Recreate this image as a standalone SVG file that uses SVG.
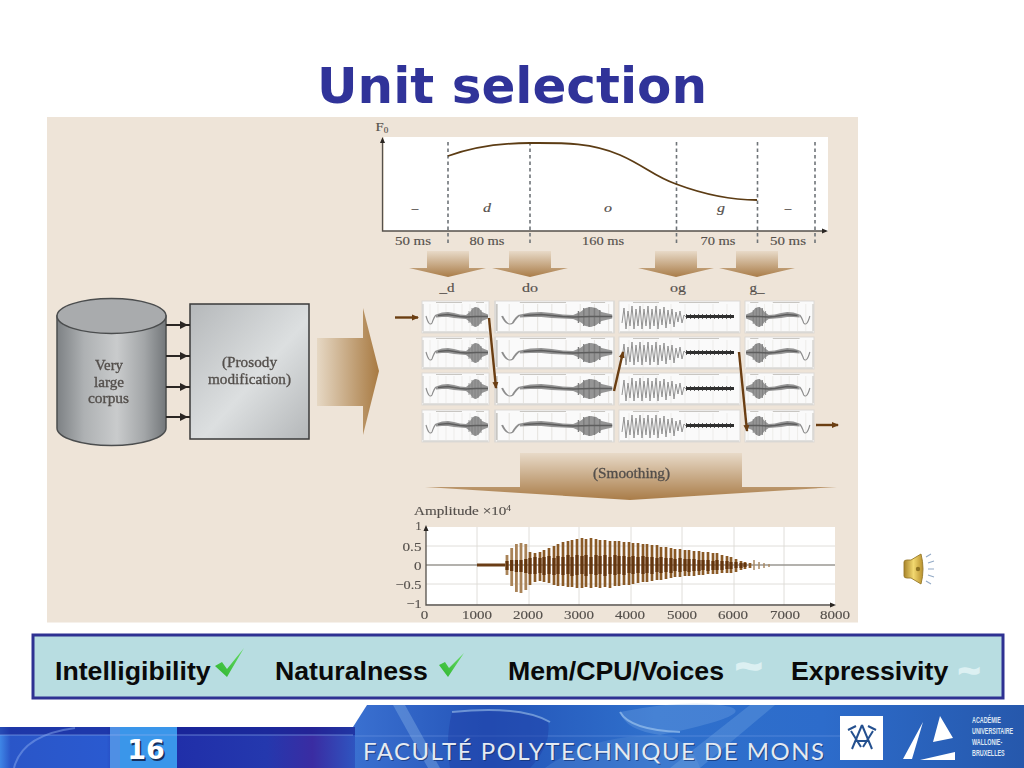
<svg xmlns="http://www.w3.org/2000/svg" xmlns:xlink="http://www.w3.org/1999/xlink" width="1024" height="768" viewBox="0 0 1024 768">
<style>
.serif{font-family:"Liberation Serif","DejaVu Serif",serif;fill:#55504c}
.s12{font-size:13px;stroke:#55504c;stroke-width:.15}
.big{font-size:14px;stroke:#4f4b48;stroke-width:.3}
.mid{text-anchor:middle}
.end{text-anchor:end}
.it{font-style:italic}
.bar{font-family:"Liberation Sans",Arial,sans-serif;font-weight:bold;font-size:26.7px;fill:#0a0a0a}
.tilde{font-family:"Liberation Sans",Arial,sans-serif;font-weight:bold;fill:#dcf0f2;stroke:#dcf0f2;stroke-width:1.6}
.dash{stroke:#6f7478;stroke-width:1.6;stroke-dasharray:3.5 3;fill:none}
.conn{stroke:#6b3e12;stroke-width:2.4;fill:none;marker-end:url(#brown)}
.feed{stroke:#2a2623;stroke-width:2.2;fill:none}
.grid{stroke:#dcdad6;stroke-width:.9}
.drop{fill:url(#dropGrad)}
.uni{font-family:"Liberation Sans",sans-serif;font-size:9px;font-weight:bold;fill:#dce6f2}
</style>
<defs>
<linearGradient id="dropGrad" x1="0" y1="0" x2="0" y2="1"><stop offset="0" stop-color="#e8dac8"/><stop offset="1" stop-color="#a97c48"/></linearGradient>
<linearGradient id="bigGrad" x1="0" y1="0" x2="1" y2="0"><stop offset="0" stop-color="#e6d8c4"/><stop offset="1" stop-color="#a87a42"/></linearGradient>
<linearGradient id="cyl" x1="0" y1="0" x2="1" y2="0"><stop offset="0" stop-color="#7d8184"/><stop offset=".25" stop-color="#aeb1b3"/><stop offset=".55" stop-color="#c9cbcc"/><stop offset=".8" stop-color="#a3a6a8"/><stop offset="1" stop-color="#73777a"/></linearGradient>
<linearGradient id="boxG" x1="0" y1="0" x2="1" y2="1"><stop offset="0" stop-color="#b5b8ba"/><stop offset=".55" stop-color="#dcdfe0"/><stop offset="1" stop-color="#b4b7b9"/></linearGradient>
<linearGradient id="footL" x1="0" y1="0" x2="1" y2="0"><stop offset="0" stop-color="#3f86e6"/><stop offset=".03" stop-color="#2a56c8"/><stop offset=".3" stop-color="#2a5ad0"/><stop offset=".36" stop-color="#1e2aa6"/><stop offset=".75" stop-color="#2438ae"/><stop offset=".88" stop-color="#3a2ca2"/><stop offset="1" stop-color="#2f55c0"/></linearGradient>
<linearGradient id="footR" x1="0" y1="0" x2="1" y2="0"><stop offset="0" stop-color="#3a70d0"/><stop offset=".2" stop-color="#2454b8"/><stop offset=".45" stop-color="#2f70cc"/><stop offset=".7" stop-color="#2d6ccb"/><stop offset="1" stop-color="#2658ac"/></linearGradient>
<linearGradient id="gold" x1="0" y1="0" x2="1" y2="0"><stop offset="0" stop-color="#a8842a"/><stop offset=".5" stop-color="#f2d870"/><stop offset="1" stop-color="#b8902c"/></linearGradient>
<linearGradient id="chk" x1="0" y1="1" x2="1" y2="0"><stop offset="0" stop-color="#2fb52f"/><stop offset="1" stop-color="#66dc66"/></linearGradient>
<marker id="brown" markerUnits="userSpaceOnUse" markerWidth="8" markerHeight="8" refX="6" refY="3.500" orient="auto"><path d="M0 .5L7 3.500L0 6.500Z" fill="#6b3e12"/></marker>
<filter id="soft" x="-5%" y="-5%" width="110%" height="110%"><feGaussianBlur stdDeviation=".6"/></filter>
<g id="waveA">
<rect width="67" height="32" fill="#fafafa" stroke="#dad8d4" stroke-width=".9"/>
<path d="M8 3V30M16 3V30M24 3V30M32 3V30M40 3V30M48 3V30M56 3V30M64 3V30" stroke="#e6e4e0" stroke-width=".6" fill="none"/>
<path d="M1 31H66M14 1.500H40M54 1.500H62M1 3V30" stroke="#c8c6c2" stroke-width="1" fill="none"/>
<path d="M4 15Q7 26 10 22Q12 16 14 14" stroke="#8d8d8d" stroke-width="1.100" fill="none"/>
<path d="M14 13.500L20 11.500L26 11L32 12L38 13.500L44 14L48 11L51 7L54 6L57 7L60 11L66 13.500L66 17.500L60 20L57 24L54 26L51 25L48 21L44 18L38 17.500L32 17L26 16L20 16L14 16.500Z" fill="#959595"/>
<path d="M47 10V22M50 7V25M53 6V26M56 7V25M59 9V23" stroke="#7d7d7d" stroke-width=".8" fill="none"/>
<path d="M16 14.500L26 13.500L38 15.500L44 16L54 15.500L66 15.500" stroke="#5d5d5d" stroke-width="1.500" fill="none"/>
</g>
<g id="waveC">
<rect width="121" height="32" fill="#fafafa" stroke="#dad8d4" stroke-width=".9"/>
<path d="M10 3V30M24 3V30M38 3V30M52 3V30M66 3V30M80 3V30M94 3V30M108 3V30" stroke="#e6e4e0" stroke-width=".6" fill="none"/>
<path d="M1 31H120M14 1.500H40M60 1.500H100" stroke="#c8c6c2" stroke-width="1" fill="none"/>
<path d="M3 22L5 7L7 28L9 10L11 25L13 5L15 28L17 8L19 25L21 5L23 28L25 8L27 25L29 5L31 28L33 8L35 25L37 5L39 28L41 8L43 24L45 6L47 27L49 9L51 23L53 8L55 26L57 11L59 21L61 10L63 22L65 14L68 17L70 15" stroke="#929292" stroke-width="1" fill="none"/>
<path d="M67 15.500H115" stroke="#2e2e2e" stroke-width="2.800" fill="none"/>
<path d="M67 15.500H115" stroke="#333" stroke-width="4.600" stroke-dasharray="1 3" fill="none"/>
</g>
</defs>

<rect width="1024" height="768" fill="#ffffff"/>
<text id="title" x="512" y="103" text-anchor="middle" font-family="'DejaVu Sans',Verdana,sans-serif" font-weight="bold" font-size="50" fill="#303399">Unit selection</text>
<rect id="figure" x="47" y="117" width="811" height="505.500" fill="#eee4d8"/>

<g id="f0-plot">
<rect x="384" y="137" width="444" height="94" fill="#ffffff"/>
<path d="M448 142V245M530 142V245M676.500 142V245M757.500 142V245M815 142V245" class="dash"/>
<path d="M448 156C470 148 495 143 530 143C560 143 590 142 620 155C645 166 655 177 676 184C700 193 725 200 757 200" fill="none" stroke="#5c3c14" stroke-width="1.800"/>
<path d="M382.500 141V231H826" fill="none" stroke="#55504b" stroke-width="1.300"/>
<path d="M382.500 137L380 143H385Z M828 231L822 228.500V233.500Z" fill="#2a2623"/>
<text x="375.500" y="131" class="serif s12" textLength="12.700" lengthAdjust="spacingAndGlyphs">F<tspan font-size="8" dy="2">0</tspan></text>
<text x="415" y="212" class="serif s12 mid it">–</text>
<text x="487" y="212" class="serif s12 mid it" textLength="8" lengthAdjust="spacingAndGlyphs">d</text>
<text x="608" y="212" class="serif s12 mid it" textLength="8" lengthAdjust="spacingAndGlyphs">o</text>
<text x="721" y="212" class="serif s12 mid it" textLength="8" lengthAdjust="spacingAndGlyphs">g</text>
<text x="788" y="212" class="serif s12 mid it">–</text>
<text x="413" y="245" class="serif s12 mid" textLength="36" lengthAdjust="spacingAndGlyphs">50 ms</text>
<text x="487" y="245" class="serif s12 mid" textLength="35" lengthAdjust="spacingAndGlyphs">80 ms</text>
<text x="603" y="245" class="serif s12 mid" textLength="42" lengthAdjust="spacingAndGlyphs">160 ms</text>
<text x="718" y="245" class="serif s12 mid" textLength="35" lengthAdjust="spacingAndGlyphs">70 ms</text>
<text x="788" y="245" class="serif s12 mid" textLength="36" lengthAdjust="spacingAndGlyphs">50 ms</text>
</g>

<g id="diphone-arrows">
<path class="drop" d="M427 251H469V268H486L448 277L409 268H427Z"/>
<path class="drop" d="M509 251H551V268H568L530 277L492 268H509Z"/>
<path class="drop" d="M655 251H697V268H714L676 277L638 268H655Z"/>
<path class="drop" d="M736 251H778V268H795L757 277L719 268H736Z"/>
<text x="447" y="292" class="serif s12 mid" textLength="15" lengthAdjust="spacingAndGlyphs">_d</text>
<text x="530" y="292" class="serif s12 mid" textLength="16" lengthAdjust="spacingAndGlyphs">do</text>
<text x="678" y="292" class="serif s12 mid" textLength="16" lengthAdjust="spacingAndGlyphs">og</text>
<text x="757" y="292" class="serif s12 mid" textLength="15" lengthAdjust="spacingAndGlyphs">g_</text>
</g>

<g id="unit-grid" filter="url(#soft)">
<use xlink:href="#waveA" transform="translate(422,301)"/>
<use xlink:href="#waveA" transform="translate(422,337)"/>
<use xlink:href="#waveA" transform="translate(422,373)"/>
<use xlink:href="#waveA" transform="translate(422,410)"/>
<use xlink:href="#waveA" transform="translate(495,301) scale(1.776,1)"/>
<use xlink:href="#waveA" transform="translate(495,337) scale(1.776,1)"/>
<use xlink:href="#waveA" transform="translate(495,373) scale(1.776,1)"/>
<use xlink:href="#waveA" transform="translate(495,410) scale(1.776,1)"/>
<use xlink:href="#waveC" transform="translate(619,301)"/>
<use xlink:href="#waveC" transform="translate(619,337)"/>
<use xlink:href="#waveC" transform="translate(619,373)"/>
<use xlink:href="#waveC" transform="translate(619,410)"/>
<use xlink:href="#waveA" transform="translate(814,301) scale(-1.030,1)"/>
<use xlink:href="#waveA" transform="translate(814,337) scale(-1.030,1)"/>
<use xlink:href="#waveA" transform="translate(814,373) scale(-1.030,1)"/>
<use xlink:href="#waveA" transform="translate(814,410) scale(-1.030,1)"/>
</g>

<g id="corpus">
<path d="M57 316V428C57 438 82 445.500 111.500 445.500C141 445.500 166 438 166 428V316Z" fill="url(#cyl)" stroke="#4b4d4e" stroke-width="1.500"/>
<ellipse cx="111.500" cy="316" rx="54.500" ry="17.500" fill="#a9abad" stroke="#4b4d4e" stroke-width="1.500"/>
<text x="109" y="370" class="serif big mid" textLength="28" lengthAdjust="spacingAndGlyphs">Very</text>
<text x="109" y="387" class="serif big mid" textLength="30" lengthAdjust="spacingAndGlyphs">large</text>
<text x="108.500" y="403" class="serif big mid" textLength="41" lengthAdjust="spacingAndGlyphs">corpus</text>
</g>

<g id="prosody">
<rect x="190" y="304" width="119" height="135" fill="url(#boxG)" stroke="#3a3a3a" stroke-width="1.500"/>
<text x="249.500" y="367" class="serif big mid" textLength="55" lengthAdjust="spacingAndGlyphs">(Prosody</text>
<text x="249.500" y="384" class="serif big mid" textLength="83" lengthAdjust="spacingAndGlyphs">modification)</text>
</g>

<g id="big-arrow"><path d="M317 338H363V308L379 371L363 435V406H317Z" fill="url(#bigGrad)"/></g>

<g id="smoothing">
<path class="drop" d="M520 453H742V487H837L630 500L425 487H520Z"/>
<text x="631.500" y="478" class="serif big mid" textLength="77" lengthAdjust="spacingAndGlyphs">(Smoothing)</text>
</g>

<g id="connectors">
<path class="feed" d="M166 325H190M166 356H190M166 387H190M166 417H190"/>
<path d="M180 321L188 325L180 329Z M180 352L188 356L180 360Z M180 383L188 387L180 391Z M180 413L188 417L180 421Z" fill="#2a2623"/>
<path class="conn" d="M395 317.500H418"/>
<path class="conn" d="M489 318L496 388"/>
<path class="conn" d="M614 391L623 352"/>
<path class="conn" d="M739 352L747 431"/>
<path class="conn" d="M816 425H838"/>
</g>

<g id="amplitude-plot">
<rect x="426" y="527" width="409" height="79" fill="#ffffff"/>
<path class="grid" d="M477 527V605M529 527V605M579 527V605M631 527V605M682 527V605M734 527V605M784 527V605M426 546H835M426 584H835"/>
<path d="M426 565H835" stroke="#9a9792" stroke-width="1.400"/>
<g filter="url(#soft)">
<path d="M477 565H505" stroke="#6b3e12" stroke-width="3"/>
<path d="M754 560V570M759 562V569M764 563V568M769 564V567" stroke="#a98a66" stroke-width="1.500"/>
<path d="M507 555V575M511.700 548V586M516.400 544V592M521 543V593M525.800 544V590" stroke="#a98358" stroke-width="2.800"/>
<path d="M530 552V585M535 553V582M540 552V581M544 550V582M549 548V583M554 546V585M558 544V586M563 542V586M568 541V587M572 540V587M577 539V588M582 538V588M586 539V587M591 538V588M596 539V587M600 540V588M605 540V587M610 541V588M615 541V586M619 541V586M624 542V585M629 542V585M633 543V584M638 543V583M643 544V582M647 544V582M652 545V581M657 545V580M661 547V580M666 547V579M671 548V578M675 549V577M680 549V577M685 550V576M689 550V576M694 551V576M699 551V575M703 552V575M708 552V574M713 553V574M717 553V574M722 555V573M727 556V573M731 557V573M736 559V572M741 561V570M745 562V569M750 563V568" stroke="#8a5a28" stroke-width="2.700"/>
<path d="M507 561V570M511.700 560V571M516.400 560V572M521 560V572M525.800 559V573M530 558V574M535 557V574M540 558V573M544 557V575M549 556V574M554 558V575M558 556V574M563 557V575M568 555V574M572 557V576M577 555V575M582 556V574M586 555V576M591 557V574M596 555V575M600 556V574M605 555V576M610 557V574M615 555V575M619 556V574M624 556V575M629 557V573M633 556V574M638 557V573M643 556V574M647 557V573M652 557V574M657 558V572M661 557V573M666 558V572M671 558V573M675 559V571M680 558V572M685 559V571M689 559V572M694 559V571M699 560V571M703 560V570M708 560V571M713 561V570M717 560V570M722 561V570M727 561V569M731 562V569M736 562V568M741 563V568M745 563V567" stroke="#643508" stroke-width="3.200"/>
</g>
<path d="M426 529V605H833" fill="none" stroke="#55504b" stroke-width="1.300"/>
<path d="M426 525L423.500 531H428.500Z M836 605L830 602.500V607.500Z" fill="#2a2623"/>
<text x="414" y="515" class="serif s12" textLength="97" lengthAdjust="spacingAndGlyphs">Amplitude ×10<tspan font-size="8" dy="-4">4</tspan></text>
<text x="421.500" y="529.500" class="serif s12 end" textLength="6" lengthAdjust="spacingAndGlyphs">1</text>
<text x="421.500" y="551" class="serif s12 end" textLength="19" lengthAdjust="spacingAndGlyphs">0.5</text>
<text x="421.500" y="570" class="serif s12 end" textLength="7.500" lengthAdjust="spacingAndGlyphs">0</text>
<text x="421.500" y="589" class="serif s12 end" textLength="26" lengthAdjust="spacingAndGlyphs">−0.5</text>
<text x="421.500" y="608" class="serif s12 end" textLength="15" lengthAdjust="spacingAndGlyphs">−1</text>
<text x="424.500" y="619" class="serif s12 mid" textLength="7.500" lengthAdjust="spacingAndGlyphs">0</text>
<text x="477" y="619" class="serif s12 mid" textLength="30" lengthAdjust="spacingAndGlyphs">1000</text>
<text x="528" y="619" class="serif s12 mid" textLength="30" lengthAdjust="spacingAndGlyphs">2000</text>
<text x="579" y="619" class="serif s12 mid" textLength="30" lengthAdjust="spacingAndGlyphs">3000</text>
<text x="630" y="619" class="serif s12 mid" textLength="30" lengthAdjust="spacingAndGlyphs">4000</text>
<text x="682" y="619" class="serif s12 mid" textLength="30" lengthAdjust="spacingAndGlyphs">5000</text>
<text x="733" y="619" class="serif s12 mid" textLength="30" lengthAdjust="spacingAndGlyphs">6000</text>
<text x="785" y="619" class="serif s12 mid" textLength="30" lengthAdjust="spacingAndGlyphs">7000</text>
<text x="835" y="619" class="serif s12 mid" textLength="30" lengthAdjust="spacingAndGlyphs">8000</text>
</g>

<g id="speaker" filter="url(#soft)">
<path d="M904 562Q904 560 907 560H911L921 554Q925 569 921 584L911 578H907Q904 578 904 576Z" fill="url(#gold)" stroke="#97792a" stroke-width=".9"/>
<circle cx="918" cy="569" r="2.200" fill="#8f7324"/>
<path d="M926 557L931 554M928 563L934 561M928 569H934M928 575L934 577M926 581L931 584" stroke="#93aac6" stroke-width="1.100" fill="none"/>
</g>

<g id="criteria">
<rect x="33" y="635" width="970" height="63" fill="#b8dde1" stroke="#2e3192" stroke-width="3"/>
<text x="55" y="680" class="bar">Intelligibility</text>
<path fill="url(#chk)" d="M215 666L222 662L227 669L244 648L227 677Z"/>
<text x="275" y="680" class="bar">Naturalness</text>
<path fill="url(#chk)" d="M439 665L445 662L449 668L464 653L448 677Z"/>
<text x="508" y="680" class="bar">Mem/CPU/Voices</text>
<text x="735" y="682" class="tilde" font-size="47">~</text>
<text x="958" y="684" class="tilde" font-size="38">~</text>
<text x="791" y="680" class="bar">Expressivity</text>
</g>

<g id="footer">
<path d="M353 727L367 705H1024V768H353Z" fill="url(#footR)"/>
<rect x="0" y="727" width="355" height="41" fill="url(#footL)"/>
<rect x="0" y="727" width="355" height="8" fill="#141e8c" opacity=".55"/>
<rect x="110" y="727" width="10" height="41" fill="#4f8fe4"/>
<rect x="120" y="727" width="57" height="41" fill="#3a96ea"/>
<path d="M0 735H353" stroke="#8fb0f0" stroke-width="1" opacity=".6"/>
<path d="M355 736H840" stroke="#8fb0f0" stroke-width="1" opacity=".35"/>
<path d="M14 768Q22 735 75 728" fill="none" stroke="#86a8ee" stroke-width="2" opacity=".5"/>
<path d="M405 705L440 768H428L393 705Z" fill="#a6ccf2" opacity=".3"/>
<path d="M452 712Q520 705 548 722Q552 745 530 768H450Q445 740 452 712Z" fill="#1f3fa8" opacity=".5"/>
<path d="M452 712Q520 705 550 722" fill="none" stroke="#9cc0ea" stroke-width="2" opacity=".6"/>
<path d="M620 712Q680 700 720 705Q770 712 660 735Q625 730 620 712Z" fill="#8db8ec" opacity=".25"/>
<path d="M620 712Q630 730 680 732" fill="none" stroke="#a8cdf2" stroke-width="2" opacity=".6"/>
<path d="M545 768Q590 735 660 735Q690 738 700 768Z" fill="#5e93d8" opacity=".3"/>
<path d="M670 768L750 705H775L700 768Z" fill="#9cc8f2" opacity=".22"/>
<text x="146" y="759" text-anchor="middle" font-family="'DejaVu Sans',sans-serif" font-weight="bold" font-size="27" fill="#14305f" transform="translate(1.500,1.500)">16</text>
<text x="146" y="759" text-anchor="middle" font-family="'DejaVu Sans',sans-serif" font-weight="bold" font-size="27" fill="#ffffff">16</text>
<text x="364" y="761" font-family="Lato,'Liberation Sans',sans-serif" font-size="24" fill="#12306e" opacity=".7" textLength="461" lengthAdjust="spacing">FACULTÉ POLYTECHNIQUE DE MONS</text>
<text x="363" y="760" font-family="Lato,'Liberation Sans',sans-serif" font-size="24" fill="#e4eaf2" textLength="461" lengthAdjust="spacing">FACULTÉ POLYTECHNIQUE DE MONS</text>
<rect x="840" y="716" width="43" height="44" fill="#ffffff"/>
<path d="M851 731L861 747M873 731L863 747M862 725L852 749M862 725L872 749M848 730L856 726M868 726L876 730M855 741H869" stroke="#24508f" stroke-width="2" fill="none"/>
<path d="M923 722L903 759H912Z M940 716L933 742L953 738Z M920 760H955V752Z" fill="#ffffff"/>
<text transform="translate(972,723) scale(.6,1)" class="uni">ACADÉMIE</text>
<text transform="translate(972,734) scale(.6,1)" class="uni">UNIVERSITAIRE</text>
<text transform="translate(972,745) scale(.6,1)" class="uni">WALLONIE-</text>
<text transform="translate(972,756) scale(.6,1)" class="uni">BRUXELLES</text>
</g>
</svg>
